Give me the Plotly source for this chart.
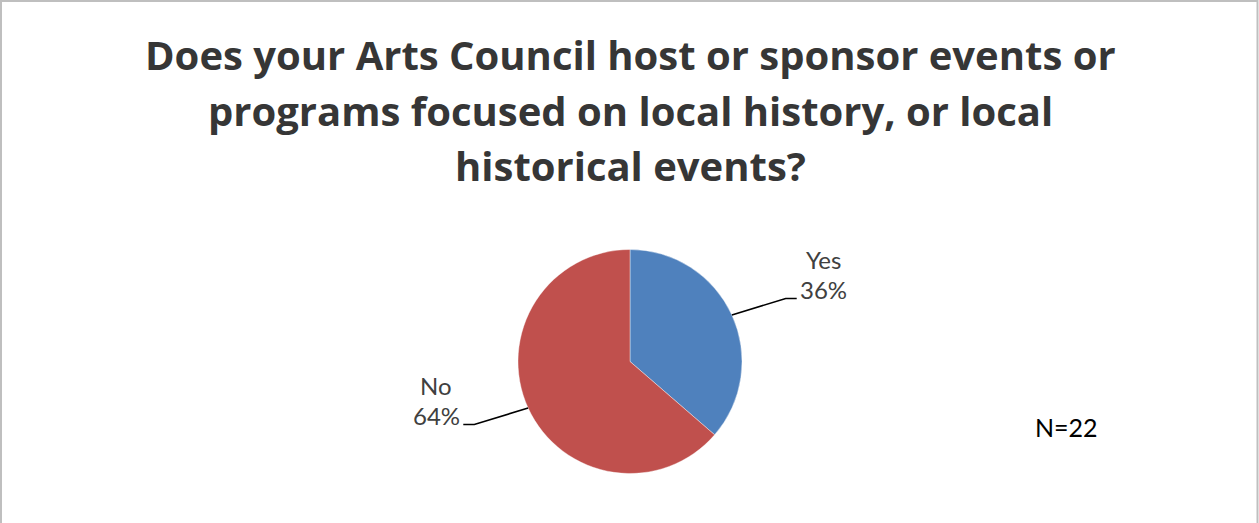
import math
import plotly.graph_objects as go

# Survey answers (count of arts councils)
labels = ["Yes", "No"]
counts = [8, 14]
colors = ["#4F81BD", "#C0504D"]

title_lines = [
    "Does your Arts Council host or sponsor events or",
    "programs focused on local history, or local",
    "historical events?",
]
note_text = "N=22"

W, H = 1259, 523
CX, CY, R = 630, 361.5, 112  # pie centre and radius in pixels


def px(x):
    return x / W


def py(y):
    return 1 - y / H


fig = go.Figure(
    go.Pie(
        labels=labels,
        values=counts,
        sort=False,
        direction="clockwise",
        rotation=0,
        marker=dict(colors=colors, line=dict(color="white", width=0.4)),
        textinfo="none",
        hoverinfo="label+percent",
        showlegend=False,
        domain=dict(x=[px(CX - R), px(CX + R)], y=[py(CY + R), py(CY - R)]),
    )
)

shapes = []
annotations = []

# Outside labels with elbow leader lines, placed at each slice's mid-angle
total = sum(counts)
cum = 0
for lab, val in zip(labels, counts):
    frac = val / total
    mid = (cum + frac / 2) * 2 * math.pi
    cum += frac
    sx, sy = math.sin(mid), -math.cos(mid)
    x0, y0 = CX + R * sx, CY + R * sy
    bend = mid + math.radians(2.5)
    ex, ey = CX + 1.5 * R * math.sin(bend), CY - 1.5 * R * math.cos(bend)
    side = 1 if sx >= 0 else -1
    hx = ex + side * 11
    shapes.append(
        dict(
            type="path",
            xref="paper",
            yref="paper",
            path=f"M {px(x0)},{py(y0)} L {px(ex)},{py(ey)} L {px(hx)},{py(ey)}",
            line=dict(color="black", width=1.6),
        )
    )
    pct = f"{round(frac * 100)}%"
    tx = hx + side * 27
    for text, dy in ((lab, -39), (pct, -9)):
        annotations.append(
            dict(
                x=px(tx), y=py(ey + dy), xref="paper", yref="paper",
                text=text, showarrow=False, xanchor="center", yanchor="middle",
                font=dict(family="Lato", size=24, color="#404040"),
            )
        )

# Title, one line per annotation for Excel-like line spacing
for i, line in enumerate(title_lines):
    annotations.append(
        dict(
            x=px(CX), y=py(55 + 55 * i), xref="paper", yref="paper",
            text=f"<b>{line}</b>", showarrow=False, xanchor="center", yanchor="middle",
            font=dict(family="Open Sans", size=40, color="#363636"),
        )
    )

annotations.append(
    dict(
        x=px(1066), y=py(427), xref="paper", yref="paper",
        text=note_text, showarrow=False, xanchor="center", yanchor="middle",
        font=dict(family="Lato", size=25, color="#000000"),
    )
)

# Chart area border
shapes.append(
    dict(
        type="rect", xref="paper", yref="paper",
        x0=px(1), x1=px(1257.5), y0=-0.2, y1=py(1),
        line=dict(color="#BFBFBF", width=2), fillcolor="rgba(0,0,0,0)",
    )
)

fig.update_layout(
    width=W,
    height=H,
    margin=dict(l=0, r=0, t=0, b=0),
    paper_bgcolor="white",
    plot_bgcolor="white",
    shapes=shapes,
    annotations=annotations,
)

fig.write_html("out.html")
